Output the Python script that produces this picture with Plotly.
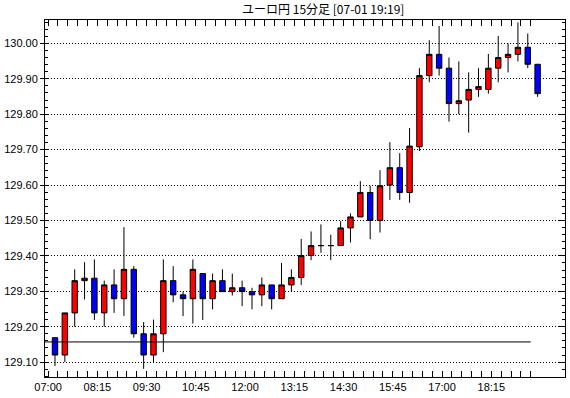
import plotly.graph_objects as go

# ---- data ----
times = [f"{7 + (15 * i) // 60:02d}:{(15 * i) % 60:02d}" for i in range(50)]
tick_labels = ["07:00", "08:15", "09:30", "10:45", "12:00", "13:15", "14:30", "15:45", "17:00", "18:15"]

opens = [129.169, 129.120, 129.239, 129.330, 129.337, 129.239, 129.318, 129.279, 129.362, 129.180,
         129.120, 129.180, 129.330, 129.290, 129.279, 129.350, 129.279, 129.330, 129.299, 129.310,
         129.299, 129.290, 129.318, 129.279, 129.318, 129.339, 129.401, 129.429, 129.429, 129.429,
         129.479, 129.510, 129.579, 129.500, 129.600, 129.649, 129.579, 129.708, 129.909, 129.969,
         129.930, 129.830, 129.840, 129.870, 129.870, 129.930, 129.960, 129.969, 129.989, 129.941]
highs = [129.169, 129.239, 129.362, 129.382, 129.390, 129.330, 129.362, 129.481, 129.371, 129.213,
         129.220, 129.390, 129.371, 129.299, 129.390, 129.350, 129.350, 129.362, 129.350, 129.330,
         129.310, 129.339, 129.318, 129.380, 129.362, 129.448, 129.469, 129.489, 129.460, 129.498,
         129.520, 129.611, 129.598, 129.642, 129.721, 129.690, 129.761, 129.930, 130.009, 130.049,
         129.960, 129.949, 129.918, 129.930, 129.970, 130.021, 130.000, 130.059, 130.028, 129.941]
lows = [129.089, 129.100, 129.200, 129.277, 129.219, 129.200, 129.239, 129.230, 129.169, 129.081,
        129.100, 129.128, 129.269, 129.230, 129.209, 129.219, 129.249, 129.299, 129.288, 129.258,
        129.249, 129.258, 129.249, 129.279, 129.299, 129.318, 129.388, 129.409, 129.388, 129.429,
        129.438, 129.510, 129.447, 129.466, 129.558, 129.558, 129.550, 129.696, 129.890, 129.909,
        129.779, 129.800, 129.748, 129.849, 129.858, 129.890, 129.918, 129.949, 129.930, 129.849]
closes = [129.120, 129.239, 129.330, 129.337, 129.239, 129.318, 129.279, 129.362, 129.180, 129.120,
          129.180, 129.330, 129.290, 129.279, 129.362, 129.279, 129.330, 129.299, 129.310, 129.299,
          129.290, 129.318, 129.279, 129.318, 129.339, 129.401, 129.429, 129.429, 129.429, 129.479,
          129.510, 129.579, 129.500, 129.598, 129.649, 129.579, 129.710, 129.909, 129.969, 129.930,
          129.830, 129.838, 129.870, 129.878, 129.930, 129.960, 129.969, 129.989, 129.941, 129.858]
ref_level = 129.157
title_text = "ユーロ円 15分足 [07-01 19:19]"

# ---- layout constants ----
x_idx = list(range(len(times)))
TICK_OFF = 0.7
x_range = [-1.015, 51.78]
y_range = [129.058, 130.066]

tickvals = [i - TICK_OFF for i in x_idx]
ticktext = [t if t in tick_labels else "" for t in times]

fig = go.Figure()
fig.add_trace(go.Candlestick(
    x=x_idx, open=opens, high=highs, low=lows, close=closes,
    increasing=dict(fillcolor="#ff0000", line=dict(color="#000000", width=1)),
    decreasing=dict(fillcolor="#0000ff", line=dict(color="#000000", width=1)),
    whiskerwidth=0, showlegend=False, hoverinfo="skip",
))
fig.add_trace(go.Scatter(
    x=[x_range[0], tickvals[-1]], y=[ref_level, ref_level], mode="lines",
    line=dict(color="#000000", width=1), showlegend=False, hoverinfo="skip",
    yaxis="y2",
))

font = dict(family="Liberation Sans, Arial, sans-serif", size=11, color="#000000")
fig.update_layout(
    width=570, height=398,
    margin=dict(l=45, r=5, t=20, b=21, pad=0),
    paper_bgcolor="#ffffff", plot_bgcolor="#ffffff",
    boxgap=0.45, boxgroupgap=0,
    hovermode=False,
    title=dict(text=title_text, x=305 / 570, xanchor="center", xref="paper",
               y=1 - 10 / 398, yanchor="middle", yref="container",
               font=dict(family="Noto Sans CJK JP, sans-serif", size=12, color="#000000")),
    font=font,
    xaxis=dict(
        range=x_range, rangeslider=dict(visible=False), showgrid=False, zeroline=False,
        tickmode="array", tickvals=tickvals, ticktext=ticktext,
        ticks="inside", ticklen=6, tickcolor="#000000", tickwidth=1,
        showline=True, linecolor="#000000", linewidth=1, mirror="ticks",
        tickfont=font,
    ),
    yaxis=dict(
        range=y_range, tick0=129.0, dtick=0.1, tickformat=".2f",
        ticks="outside", ticklen=4, tickcolor="#000000", tickwidth=1,
        minor=dict(dtick=0.02, tick0=129.0, ticks="inside", ticklen=3, tickcolor="#000000", showgrid=False),
        showgrid=True, gridcolor="#000000", gridwidth=1, griddash="1px,2px",
        zeroline=False, showline=True, linecolor="#000000", linewidth=1,
        tickfont=font,
    ),
    yaxis2=dict(
        range=y_range, overlaying="y", side="right", tick0=129.0, dtick=0.1,
        showticklabels=False, showgrid=False, zeroline=False,
        ticks="inside", ticklen=6, tickcolor="#000000", tickwidth=1,
        minor=dict(dtick=0.02, tick0=129.0, ticks="inside", ticklen=3, tickcolor="#000000", showgrid=False),
        showline=True, linecolor="#000000", linewidth=1,
    ),
)

fig.write_html("out.html", config={"displayModeBar": False},
               post_script="document.body.style.margin='0';")
